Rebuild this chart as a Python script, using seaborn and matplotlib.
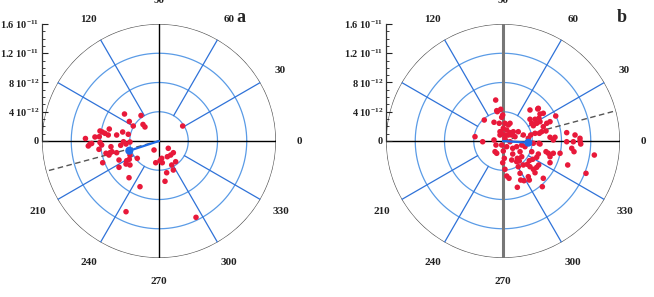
import numpy as np
import pandas as pd
import matplotlib
matplotlib.use("Agg")
import matplotlib.pyplot as plt
from matplotlib.ticker import MultipleLocator
import seaborn as sns

sns.set_theme(style="white")
plt.rcParams["font.family"] = ["Liberation Serif", "DejaVu Serif"]
plt.rcParams["font.weight"] = "bold"
plt.rcParams["mathtext.fontset"] = "custom"
plt.rcParams["mathtext.rm"] = "Liberation Serif:bold"
plt.rcParams["mathtext.it"] = "Liberation Serif:bold"
plt.rcParams["mathtext.bf"] = "Liberation Serif:bold"

# ---- data: vector components in units of 1e-12 ----
a_east = [-4.72, -2.46, -4.06, -3.52, -2.19, -1.92, 3.24, -8.07, -6.80, -7.39,
          -6.94, -8.17, -8.76, -10.06, -9.44, -9.67, -9.21, -8.07, -8.21, -5.79,
          -4.97, -4.20, -4.86, -3.97, -6.57, -7.25, -6.70, -6.84, -5.79, -5.24,
          -4.51, -7.70, -5.47, -4.42, -4.06, -4.51, -3.97, -5.47, -2.97, -4.10,
          -2.60, -4.51, -0.68, 1.27, 1.96, 1.60, 1.14, 0.37, 0.14, 0.45,
          -0.45, 1.74, 1.96, 2.28, 1.05, 0.82, 5.06, -3.97, -6.43, -7.84,
          -7.76]
a_north = [3.69, 3.49, 2.67, 2.05, 2.26, 1.92, 2.05, 1.37, 1.64, 1.05,
           0.82, 0.59, 0.55, 0.34, -0.41, -0.68, -0.34, -0.21, -1.14, 0.82,
           1.23, 0.92, -0.10, -0.14, -0.78, -1.68, -1.60, -1.92, -1.60, -0.59,
           -0.41, -2.97, -2.60, -2.69, -2.50, -3.15, -3.28, -3.60, -2.37, -5.02,
           -6.25, -9.67, -1.23, -1.00, -1.60, -1.92, -2.15, -2.37, -2.69, -2.97,
           -2.97, -3.28, -3.97, -2.83, -4.34, -5.51, -10.44, -1.92, -1.46, -0.55,
           1.23]
a_mean = (-4.06, -1.33)
a_dash_deg = 195

b_east = [-1.0, -0.86, -0.31, -0.04, -0.18, -2.56, -1.23, -0.51, 0.27, 0.73,
          0.96, 0.04, 0.51, 0.96, 1.41, 2.09, -0.18, 0.27, 0.73, 1.19,
          0.27, -3.83, -2.78, -1.23, -0.18, 0.51, 1.33, 1.87, 2.56, 2.33,
          1.96, 1.87, -1.09, 0.04, -0.04, 0.27, 0.51, 0.82, 1.96, 2.42,
          2.87, 3.46, 3.60, 2.33, 3.32, 3.69, 4.15, 4.61, 4.88, 4.38,
          4.06, 4.61, 3.60, 5.51, 5.38, 3.93, 4.83, 4.92, 5.88, 6.20,
          6.88, 6.43, 7.80, 8.85, 8.71, 9.62, 10.53, 10.63, 9.85, 10.53,
          9.40, 9.71, 6.43, 7.11, 4.61, 5.06, 5.98, 6.43, 7.21, 3.69,
          4.75, 5.06, 4.92, 4.38, 3.69, 3.93, 12.49, 11.35, 3.79, 4.38,
          4.97, 4.15, 5.51, 5.88, 5.29, 8.71, 1.33, 1.19, 2.23, 2.56,
          6.43, -0.96, 5.06, 4.83, 5.51, 4.15, 2.78, 3.46, 6.88, -0.78,
          -0.41, -0.41, 1.64, 0.96, -0.86, 0.18, 2.09, 2.78, 3.01]
b_north = [5.6, 4.15, 4.34, 3.56, 3.24, 2.87, 2.56, 2.42, 2.42, 2.19,
           2.42, 1.74, 1.50, 1.14, 1.27, 1.27, 1.05, 0.82, 0.82, 0.82,
           0.37, 0.59, -0.10, 0.14, -0.55, -0.78, -1.00, -0.78, -0.55, -1.46,
           -2.37, -2.83, -1.46, -1.37, -2.97, -3.87, -4.79, -5.10, -6.33, -5.34,
           -5.43, -4.88, -5.34, -4.42, -3.19, -3.52, -3.87, -3.60, -3.28, -4.34,
           -2.50, -2.23, -2.69, -5.10, -6.25, -1.46, -1.78, -0.31, -1.46, -1.68,
           -1.68, -2.15, -1.68, -3.28, -0.10, -0.10, 0.0, -0.41, 0.82, 0.37,
           -1.00, -1.46, 0.51, 0.51, 2.42, 2.64, 2.42, 2.64, 3.42, 4.24,
           4.38, 3.69, 3.11, 2.97, 2.97, 2.42, -1.92, -4.42, 0.82, 1.05,
           1.05, -0.31, 1.96, 1.37, 1.27, 1.14, -1.78, -2.60, -2.74, -2.15,
           -2.97, -0.55, -0.41, 4.47, 3.79, 2.09, 0.82, 0.37, 0.14, 4.01,
           1.27, 0.82, 0.59, -0.10, -1.68, -2.37, -3.52, -3.28, -0.78]
b_mean = (3.46, -0.23)
b_dash_deg = 15

r_ticks = [0, 4, 8, 12, 16]
r_tick_labels = ["0", r"4 10$^{-12}$", r"8 10$^{-12}$", r"1.2 10$^{-11}$", r"1.6 10$^{-11}$"]
angle_labels = [0, 30, 60, 90, 120, 210, 240, 270, 300, 330]
spoke_angles = [30, 60, 120, 150, 210, 240, 300, 330]
ring_radii = [4, 8, 12]
r_max = 16

RED = "#e8193a"
GRID_BLUE = "#5a9be6"
SPOKE_BLUE = "#2f72d8"
MEAN_BLUE = "#1f6be6"

W, H = 654, 297
fig = plt.figure(figsize=(W / 100, H / 100), dpi=100)


def draw_panel(cx, cy, R, east, north, mean, dash_deg, letter, lx, ly,
               vcolor, vlw):
    rect = [(cx - R) / W, (H - cy - R) / H, 2 * R / W, 2 * R / H]
    ax = fig.add_axes(rect, projection="polar")
    ax.set_ylim(0, r_max)
    ax.grid(False)
    ax.set_xticks([])
    ax.set_yticks([])
    ax.spines["polar"].set_visible(False)
    ax.patch.set_alpha(0)

    th = np.linspace(0, 2 * np.pi, 400)
    for rr in ring_radii:
        ax.plot(th, np.full_like(th, rr), color=GRID_BLUE, lw=0.9, zorder=1)
    ax.plot(th, np.full_like(th, r_max), color="#555555", lw=0.9, zorder=1)
    for a in spoke_angles:
        t = np.deg2rad(a)
        ax.plot([t, t], [ring_radii[0], r_max], color=SPOKE_BLUE, lw=0.9, zorder=1)
    for a in [0, 180]:
        t = np.deg2rad(a)
        ax.plot([t, t], [0, r_max], color="black", lw=1.0, zorder=2)
    for a in [90, 270]:
        t = np.deg2rad(a)
        ax.plot([t, t], [0, r_max], color=vcolor, lw=vlw, zorder=2)

    e = np.array(east)
    n = np.array(north)
    df = pd.DataFrame({"theta": np.arctan2(n, e), "r": np.hypot(e, n)})
    sns.scatterplot(data=df, x="theta", y="r", ax=ax, color=RED, s=16,
                    edgecolor="none", linewidth=0, zorder=5)
    ax.set_xlabel("")
    ax.set_ylabel("")

    # dashed direction line
    td = np.deg2rad(dash_deg)
    ax.plot([td, td], [0, r_max], color="#555555", lw=1.0, ls=(0, (4, 2.5)), zorder=3)
    # mean vector
    tm = np.arctan2(mean[1], mean[0])
    rm = np.hypot(mean[0], mean[1])
    ax.plot([tm, tm], [0, rm], color=MEAN_BLUE, lw=1.6, zorder=6)
    ax.scatter([tm], [rm], s=34, color=MEAN_BLUE, zorder=7, edgecolors="none")

    for a in angle_labels:
        ax.text(np.deg2rad(a), r_max * 1.2, str(a), ha="center", va="center",
                fontsize=8, fontweight="bold", color="#222222", clip_on=False)
    ax.set_ylim(0, r_max)

    # radial scale axis on the left
    rax = fig.add_axes([(cx - R) / W, (H - cy) / H, 0.0001, R / H])
    rax.set_ylim(0, r_max)
    rax.set_xticks([])
    rax.set_yticks(r_ticks)
    rax.set_yticklabels(r_tick_labels)
    rax.yaxis.set_minor_locator(MultipleLocator(1))
    rax.tick_params(axis="y", which="major", direction="in", length=4, width=0.8,
                    labelsize=7.5, pad=2, colors="#222222", left=True)
    rax.tick_params(axis="y", which="minor", direction="in", length=2, width=0.6,
                    left=True, colors="#222222")
    for sp in ["top", "right", "bottom"]:
        rax.spines[sp].set_visible(False)
    rax.spines["left"].set_color("#333333")
    rax.spines["left"].set_linewidth(0.9)
    rax.patch.set_alpha(0)
    for lbl in rax.get_yticklabels():
        lbl.set_fontweight("bold")

    fig.text(lx / W, 1 - ly / H, letter, fontsize=13, fontweight="bold",
             ha="center", va="center")


draw_panel(159, 141, 117, a_east, a_north, a_mean, a_dash_deg, "a", 241, 17,
           "black", 1.0)
draw_panel(503, 141, 117, b_east, b_north, b_mean, b_dash_deg, "b", 622, 17,
           "#777777", 2.2)

fig.savefig("out.png", dpi=100)
